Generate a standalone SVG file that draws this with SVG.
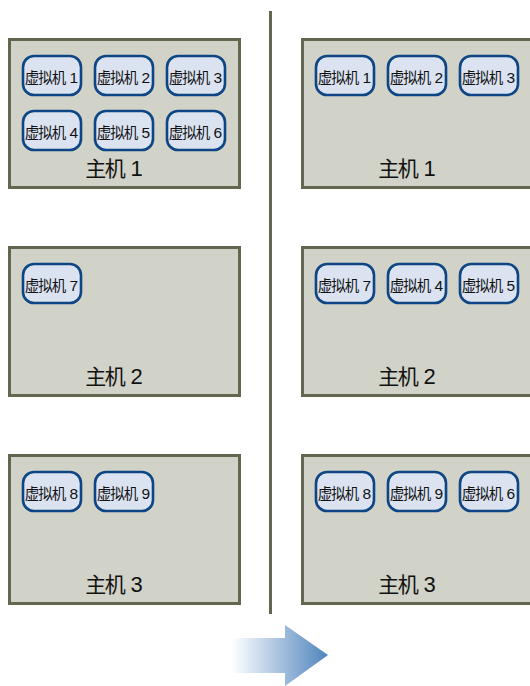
<svg xmlns="http://www.w3.org/2000/svg" width="530" height="686" viewBox="0 0 530 686">
<defs>
<style>
.host{fill:#d1d2c8;stroke:#646750;stroke-width:3}
.vm{fill:#dbe3f1;stroke:#0d4585;stroke-width:2.6}
.vt{font-family:"Liberation Sans","Noto Sans CJK SC",sans-serif;font-size:15.5px;fill:#111;text-anchor:middle}
.ht{font-family:"Liberation Sans","Noto Sans CJK SC",sans-serif;font-size:22px;fill:#111;text-anchor:middle}
.vt .c{font-size:14.5px;letter-spacing:-1px}
.ht .c{font-size:21px;letter-spacing:-1.5px}
</style>
<linearGradient id="ag" x1="232" y1="0" x2="328" y2="0" gradientUnits="userSpaceOnUse">
<stop offset="0" stop-color="#ffffff"/>
<stop offset="1" stop-color="#4f84bd"/>
</linearGradient>
</defs>
<rect width="530" height="686" fill="#ffffff"/>
<g id="connectors">
<line x1="270.5" y1="11" x2="270.5" y2="614" stroke="#646750" stroke-width="3"/>
<path d="M232,638 H285 V625 L328,655 L285,686 V673 H232 Z" fill="url(#ag)"/>
</g>
<g id="host-left-1">
<rect class="host" x="9.5" y="39.5" width="230" height="148"/>
<text class="ht" x="114" y="175.5"><tspan class="c">主机</tspan> 1</text>
</g>
<g id="host-left-2">
<rect class="host" x="9.5" y="247.5" width="230" height="148"/>
<text class="ht" x="114" y="383.5"><tspan class="c">主机</tspan> 2</text>
</g>
<g id="host-left-3">
<rect class="host" x="9.5" y="455.5" width="230" height="148"/>
<text class="ht" x="114" y="591.5"><tspan class="c">主机</tspan> 3</text>
</g>
<g id="host-right-1">
<rect class="host" x="302.5" y="39.5" width="230" height="148"/>
<text class="ht" x="407" y="175.5"><tspan class="c">主机</tspan> 1</text>
</g>
<g id="host-right-2">
<rect class="host" x="302.5" y="247.5" width="230" height="148"/>
<text class="ht" x="407" y="383.5"><tspan class="c">主机</tspan> 2</text>
</g>
<g id="host-right-3">
<rect class="host" x="302.5" y="455.5" width="230" height="148"/>
<text class="ht" x="407" y="591.5"><tspan class="c">主机</tspan> 3</text>
</g>
<g id="vm-l1"><rect class="vm" x="23" y="56" width="58" height="39" rx="11"/><text class="vt" x="51.5" y="83"><tspan class="c">虚拟机</tspan> 1</text></g>
<g id="vm-l2"><rect class="vm" x="95" y="56" width="58" height="39" rx="11"/><text class="vt" x="123.5" y="83"><tspan class="c">虚拟机</tspan> 2</text></g>
<g id="vm-l3"><rect class="vm" x="167" y="56" width="58" height="39" rx="11"/><text class="vt" x="195.5" y="83"><tspan class="c">虚拟机</tspan> 3</text></g>
<g id="vm-l4"><rect class="vm" x="23" y="111" width="58" height="39" rx="11"/><text class="vt" x="51.5" y="138"><tspan class="c">虚拟机</tspan> 4</text></g>
<g id="vm-l5"><rect class="vm" x="95" y="111" width="58" height="39" rx="11"/><text class="vt" x="123.5" y="138"><tspan class="c">虚拟机</tspan> 5</text></g>
<g id="vm-l6"><rect class="vm" x="167" y="111" width="58" height="39" rx="11"/><text class="vt" x="195.5" y="138"><tspan class="c">虚拟机</tspan> 6</text></g>
<g id="vm-l7"><rect class="vm" x="23" y="264" width="58" height="39" rx="11"/><text class="vt" x="51.5" y="291"><tspan class="c">虚拟机</tspan> 7</text></g>
<g id="vm-l8"><rect class="vm" x="23" y="472" width="58" height="39" rx="11"/><text class="vt" x="51.5" y="499"><tspan class="c">虚拟机</tspan> 8</text></g>
<g id="vm-l9"><rect class="vm" x="95" y="472" width="58" height="39" rx="11"/><text class="vt" x="123.5" y="499"><tspan class="c">虚拟机</tspan> 9</text></g>
<g id="vm-r1"><rect class="vm" x="316" y="56" width="58" height="39" rx="11"/><text class="vt" x="344.5" y="83"><tspan class="c">虚拟机</tspan> 1</text></g>
<g id="vm-r2"><rect class="vm" x="388" y="56" width="58" height="39" rx="11"/><text class="vt" x="416.5" y="83"><tspan class="c">虚拟机</tspan> 2</text></g>
<g id="vm-r3"><rect class="vm" x="460" y="56" width="58" height="39" rx="11"/><text class="vt" x="488.5" y="83"><tspan class="c">虚拟机</tspan> 3</text></g>
<g id="vm-r7"><rect class="vm" x="316" y="264" width="58" height="39" rx="11"/><text class="vt" x="344.5" y="291"><tspan class="c">虚拟机</tspan> 7</text></g>
<g id="vm-r4"><rect class="vm" x="388" y="264" width="58" height="39" rx="11"/><text class="vt" x="416.5" y="291"><tspan class="c">虚拟机</tspan> 4</text></g>
<g id="vm-r5"><rect class="vm" x="460" y="264" width="58" height="39" rx="11"/><text class="vt" x="488.5" y="291"><tspan class="c">虚拟机</tspan> 5</text></g>
<g id="vm-r8"><rect class="vm" x="316" y="472" width="58" height="39" rx="11"/><text class="vt" x="344.5" y="499"><tspan class="c">虚拟机</tspan> 8</text></g>
<g id="vm-r9"><rect class="vm" x="388" y="472" width="58" height="39" rx="11"/><text class="vt" x="416.5" y="499"><tspan class="c">虚拟机</tspan> 9</text></g>
<g id="vm-r6"><rect class="vm" x="460" y="472" width="58" height="39" rx="11"/><text class="vt" x="488.5" y="499"><tspan class="c">虚拟机</tspan> 6</text></g>
</svg>
